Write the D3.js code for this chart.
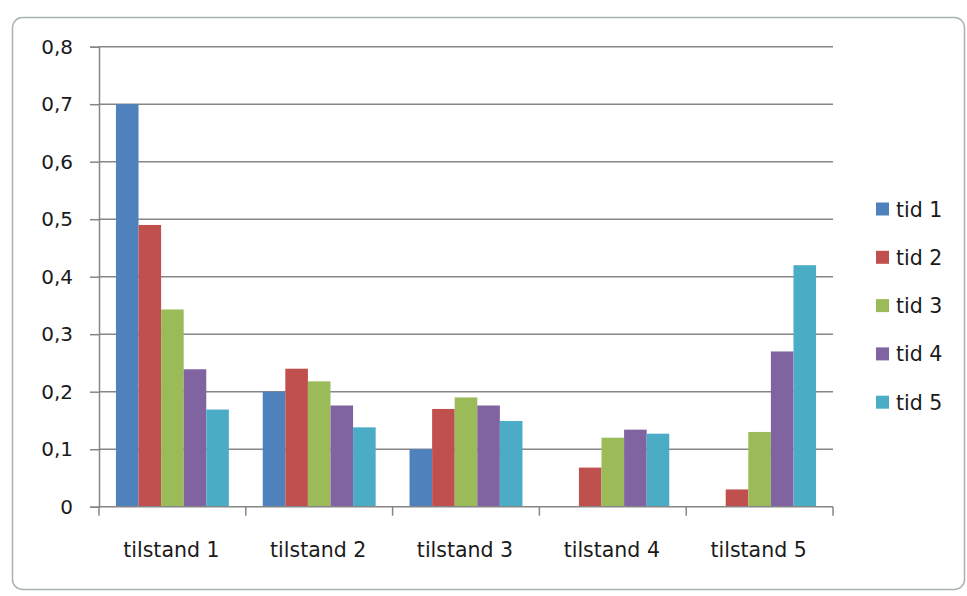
<!DOCTYPE html>
<html>
<head>
<meta charset="utf-8">
<script src="https://cdn.jsdelivr.net/npm/d3@7"></script>
<style>
  html, body { margin: 0; padding: 0; background: #fff; }
  svg { display: block; }
  text { font-family: "DejaVu Sans", "Open Sans", sans-serif; fill: #1a1a1a; }
</style>
</head>
<body>
<svg id="chart" width="967" height="596"></svg>
<script>
// Categories and series
const categories = ["tilstand 1", "tilstand 2", "tilstand 3", "tilstand 4", "tilstand 5"];
const seriesNames = ["tid 1", "tid 2", "tid 3", "tid 4", "tid 5"];
const tid1 = [0.70, 0.20, 0.10, 0.00, 0.00];
const tid2 = [0.49, 0.24, 0.17, 0.068, 0.03];
const tid3 = [0.343, 0.218, 0.19, 0.12, 0.13];
const tid4 = [0.239, 0.176, 0.176, 0.134, 0.27];
const tid5 = [0.169, 0.138, 0.149, 0.127, 0.42];
const yTicks = [0, 0.1, 0.2, 0.3, 0.4, 0.5, 0.6, 0.7, 0.8];
const colors = ["#4F81BD", "#C0504D", "#9BBB59", "#8064A2", "#4BACC6"];

const seriesValues = [tid1, tid2, tid3, tid4, tid5];

const svg = d3.select("#chart");

// Chart frame
svg.append("rect")
  .attr("x", 12.5).attr("y", 17.5)
  .attr("width", 952).attr("height", 572)
  .attr("rx", 10).attr("ry", 10)
  .attr("fill", "#fff")
  .attr("stroke", "#a9b3b3")
  .attr("stroke-width", 1.5);

const plot = { left: 99, right: 833, top: 46.7, bottom: 506.7 };

const x0 = d3.scaleBand()
  .domain(categories)
  .range([plot.left, plot.right])
  .paddingInner(0).paddingOuter(0);

const x1 = d3.scaleBand()
  .domain(seriesNames)
  .range([0, x0.bandwidth()])
  .paddingOuter(0.75).paddingInner(0);

const y = d3.scaleLinear().domain([0, 0.8]).range([plot.bottom, plot.top]);

const fmt = v => d3.format(".1f")(v).replace(".", ",");

// Horizontal gridlines
svg.append("g")
  .selectAll("line")
  .data(yTicks.filter(t => t > 0))
  .join("line")
  .attr("x1", plot.left).attr("x2", plot.right)
  .attr("y1", d => y(d)).attr("y2", d => y(d))
  .attr("stroke", "#868686").attr("stroke-width", 1.5);

// Bars
const groups = svg.append("g")
  .selectAll("g")
  .data(categories)
  .join("g")
  .attr("transform", d => `translate(${x0(d)},0)`);

groups.selectAll("rect")
  .data((c, ci) => seriesNames.map((s, si) => ({ s, si, v: seriesValues[si][ci] })))
  .join("rect")
  .attr("x", d => x1(d.s))
  .attr("width", x1.bandwidth())
  .attr("y", d => y(d.v))
  .attr("height", d => y(0) - y(d.v))
  .attr("fill", d => colors[d.si]);

// Y axis
const yAxis = d3.axisLeft(y)
  .tickValues(yTicks)
  .tickSize(9)
  .tickPadding(17)
  .tickFormat(d => d === 0 ? "0" : fmt(d));

const yg = svg.append("g")
  .attr("transform", `translate(${plot.left},0)`)
  .call(yAxis);
yg.select(".domain").attr("stroke", "#868686").attr("stroke-width", 1.5);
yg.selectAll(".tick line").attr("stroke", "#868686").attr("stroke-width", 1.5);
yg.selectAll(".tick text")
  .attr("font-size", 20)
  .attr("font-family", "\"DejaVu Sans\", sans-serif")
  .attr("fill", "#1a1a1a");

// X axis with tick marks at category boundaries
const xg = svg.append("g")
  .attr("transform", `translate(0,${plot.bottom})`);
xg.append("line")
  .attr("x1", plot.left).attr("x2", plot.right)
  .attr("stroke", "#868686").attr("stroke-width", 1.5);
const boundaries = categories.map(c => x0(c)).concat([plot.right]);
xg.selectAll("line.tk")
  .data(boundaries)
  .join("line")
  .attr("class", "tk")
  .attr("x1", d => d).attr("x2", d => d)
  .attr("y1", 0).attr("y2", 9)
  .attr("stroke", "#868686").attr("stroke-width", 1.5);
xg.selectAll("text")
  .data(categories)
  .join("text")
  .attr("x", d => x0(d) + x0.bandwidth() / 2 - 1)
  .attr("y", 50)
  .attr("text-anchor", "middle")
  .attr("font-size", 20.5)
  .text(d => d);

// Legend
const legend = svg.append("g")
  .selectAll("g")
  .data(seriesNames)
  .join("g")
  .attr("transform", (d, i) => `translate(876,${202.5 + i * 48.3})`);
legend.append("rect")
  .attr("width", 13).attr("height", 13)
  .attr("fill", (d, i) => colors[i]);
legend.append("text")
  .attr("x", 20).attr("y", 14)
  .attr("font-size", 20.5)
  .text(d => d);
</script>
</body>
</html>
